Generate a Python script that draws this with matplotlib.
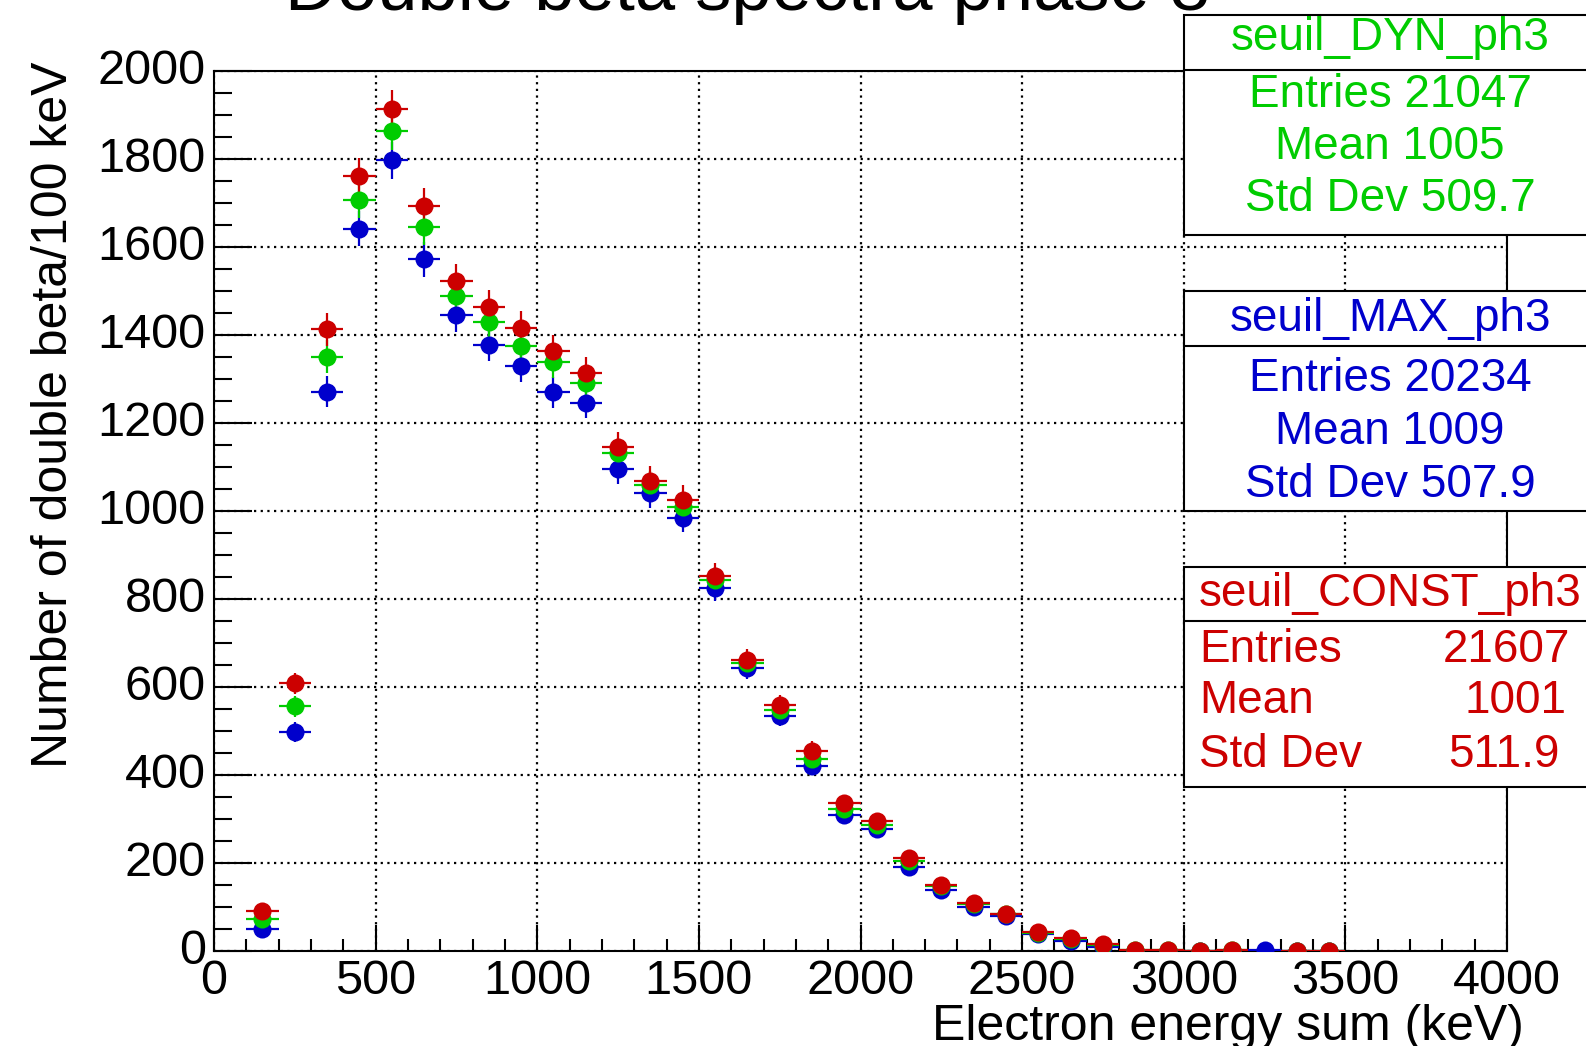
import matplotlib
matplotlib.use('Agg')
import matplotlib.pyplot as plt
import matplotlib.transforms as mtransforms
import numpy as np
from matplotlib.patches import Rectangle
from matplotlib.lines import Line2D
from matplotlib.ticker import MultipleLocator

plt.rcParams['font.family'] = ['Liberation Sans', 'DejaVu Sans']

# bin centres (keV), 100 keV bins
energy = [150, 250, 350, 450, 550, 650, 750, 850, 950, 1050, 1150, 1250,
          1350, 1450, 1550, 1650, 1750, 1850, 1950, 2050, 2150, 2250, 2350,
          2450, 2550, 2650, 2750, 2850, 2950, 3050, 3150, 3250, 3350, 3450]

seuil_max = [50, 498, 1271, 1642, 1797, 1572, 1445, 1377, 1330, 1270, 1246, 1095,
             1040, 984, 824, 643, 534, 420, 309, 277, 190, 139, 100,
             80, 39, 23, 8, 1, 1, 1, 1, 2, 1, 1]
seuil_dyn = [72, 556, 1351, 1707, 1863, 1645, 1489, 1430, 1375, 1338, 1292, 1132,
             1059, 1008, 844, 654, 548, 436, 323, 287, 204, 147, 107,
             83, 42, 27, 13, 3, 2, 1, 2, 0, 1, 1]
seuil_const = [92, 608, 1413, 1761, 1914, 1693, 1523, 1464, 1416, 1364, 1313, 1145,
               1069, 1026, 852, 661, 559, 455, 336, 296, 211, 149, 109,
               85, 44, 29, 15, 3, 2, 1, 2, 0, 1, 1]

c_blue = '#0000cc'
c_green = '#00cc00'
c_red = '#cc0000'

W, H = 1586, 1046
fig = plt.figure(figsize=(W / 100, H / 100), dpi=100)
ax = fig.add_axes([214 / W, 1 - 951 / H, (1507 - 214) / W, (951 - 71) / H])

x = np.array(energy, float)
for vals, col in [(seuil_max, c_blue), (seuil_dyn, c_green), (seuil_const, c_red)]:
    v = np.array(vals, float)
    m = v > 0  # empty bins are not drawn
    ax.errorbar(x[m], v[m], xerr=50, yerr=np.sqrt(v[m]), fmt='o', ms=13,
                color=col, ecolor=col, elinewidth=1.6, capsize=0, mew=0, zorder=3)

ax.set_xlim(0, 4000)
ax.set_ylim(0, 2000)
ax.xaxis.set_major_locator(MultipleLocator(500))
ax.xaxis.set_minor_locator(MultipleLocator(100))
ax.yaxis.set_major_locator(MultipleLocator(200))
ax.yaxis.set_minor_locator(MultipleLocator(50))
ax.tick_params(axis='both', which='both', direction='in', width=1.5,
               top=False, right=False, labelsize=35, pad=6)
ax.tick_params(axis='y', which='major', length=27)
ax.tick_params(axis='y', which='minor', length=13)
ax.tick_params(axis='x', which='major', length=19)
ax.tick_params(axis='x', which='minor', length=9)
ax.grid(True, which='major', color='black', linestyle=(0, (1, 2)), linewidth=1.6)
ax.set_axisbelow(True)
for s in ax.spines.values():
    s.set_linewidth(1.5)

# y tick labels sit slightly above their ticks
shift = mtransforms.ScaledTranslation(0, 5 / 100, fig.dpi_scale_trans)
for lab in ax.get_yticklabels():
    lab.set_transform(lab.get_transform() + shift)

# titles
fig.text(748 / W, 1 - 10 / H, 'Double beta spectra phase 3', ha='center',
         va='baseline', fontsize=52)
fig.text(1524 / W, 1 - 1040 / H, 'Electron energy sum (keV)', ha='right',
         va='baseline', fontsize=36)
fig.text(54 / W, 1 - 62 / H, 'Number of double beta/100 keV', rotation=90,
         ha='center', va='top', fontsize=36)


def fx(px):
    return px / W


def fy(py):
    return 1 - py / H


def stat_box(top, div, bottom, name, name_y, rows, color, split=False):
    fig.add_artist(Rectangle((fx(1184), fy(bottom)), fx(1610) - fx(1184),
                             fy(top) - fy(bottom), transform=fig.transFigure,
                             facecolor='white', edgecolor='black', linewidth=1.5,
                             zorder=5))
    fig.add_artist(Line2D([fx(1184), fx(1610)], [fy(div), fy(div)],
                          transform=fig.transFigure, color='black', linewidth=1.5,
                          zorder=6))
    if split:
        fig.text(fx(1199), fy(name_y), name, ha='left', va='baseline',
                 fontsize=33, color=color, zorder=7)
    else:
        fig.text(fx(1390), fy(name_y), name, ha='center', va='baseline',
                 fontsize=33, color=color, zorder=7)
    for label, value, ypos, xr in rows:
        if split:
            fig.text(fx(1199), fy(ypos), label, ha='left', va='baseline',
                     fontsize=33, color=color, zorder=7)
            fig.text(fx(xr), fy(ypos), value, ha='right', va='baseline',
                     fontsize=33, color=color, zorder=7)
        else:
            fig.text(fx(1390), fy(ypos), f'{label} {value}', ha='center',
                     va='baseline', fontsize=33, color=color, zorder=7)


stat_box(15, 70, 235, 'seuil_DYN_ph3', 50,
         [('Entries', '21047', 107, 0), ('Mean', '1005', 159, 0),
          ('Std Dev', '509.7', 211, 0)],
         c_green)
stat_box(291, 346, 511, 'seuil_MAX_ph3', 331,
         [('Entries', '20234', 391, 0), ('Mean', '1009', 444, 0),
          ('Std Dev', '507.9', 497, 0)],
         c_blue)
stat_box(567, 621, 787, 'seuil_CONST_ph3', 606,
         [('Entries', '21607', 662, 1570), ('Mean', '1001', 713, 1567),
          ('Std Dev', '511.9', 767, 1560)],
         c_red, split=True)

fig.savefig('out.png', dpi=100)
